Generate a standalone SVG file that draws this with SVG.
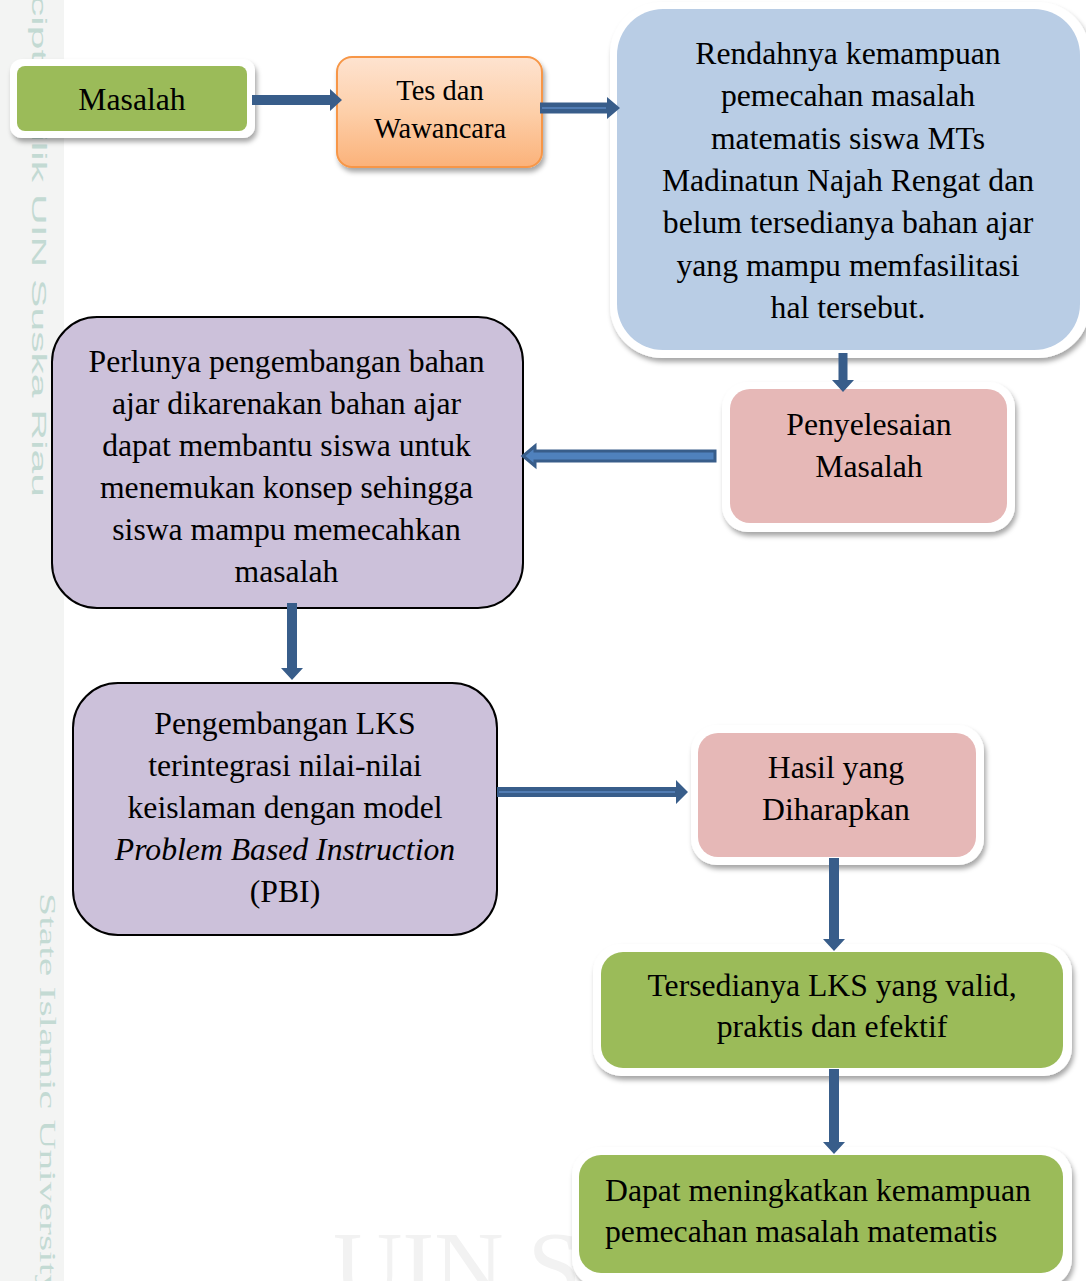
<svg xmlns="http://www.w3.org/2000/svg" width="1086" height="1281" viewBox="0 0 1086 1281">
<style>
.t{font-family:"Liberation Serif","Times New Roman",serif;font-size:31.7px;fill:#000;text-anchor:middle}
.ts{font-size:28.5px}
.wm{fill:#c3dad3}
.frame{fill:#fff;filter:url(#sh)}
.green{fill:#9bbb59}
.pink{fill:#e6b8b7}
.blue{fill:#b9cde5}
.purple{fill:#ccc1da;stroke:#000;stroke-width:2}
.ar{fill:#385d8a;stroke:none}
.ar2{fill:#4f81bd;stroke:#385d8a;stroke-width:3;stroke-linejoin:miter}
.hl{stroke:#5a87c0;fill:none}
</style>
<defs>
<filter id="sh" x="-10%" y="-10%" width="125%" height="130%">
<feDropShadow dx="2" dy="4" stdDeviation="2.5" flood-color="#000" flood-opacity="0.35"/>
</filter>
<linearGradient id="og" x1="0" y1="0" x2="0" y2="1">
<stop offset="0" stop-color="#fee3d0"/>
<stop offset="0.5" stop-color="#fdcfa9"/>
<stop offset="1" stop-color="#fbb27a"/>
</linearGradient>
</defs>

<g id="background">
<rect x="0" y="0" width="1086" height="1281" fill="#fff"/>
<rect x="0" y="0" width="64" height="1281" fill="#f3f4f3"/>
<text x="333" y="1298" font-family="Liberation Serif, serif" font-size="96" fill="#f2f2f2">UIN S</text>
<text class="wm" transform="translate(32,-5) rotate(90)" x="0" y="0" font-family="Liberation Sans, Arial, sans-serif" font-size="20" textLength="502" lengthAdjust="spacingAndGlyphs">cipta milik UIN Suska Riau</text>
<text class="wm" transform="translate(40,893) rotate(90)" x="0" y="0" font-family="Liberation Serif, serif" font-size="23" textLength="402" lengthAdjust="spacingAndGlyphs">State Islamic University</text>
</g>

<g id="n-masalah">
<rect class="frame" x="10" y="59" width="245" height="79" rx="12"/>
<rect class="green" x="17" y="66" width="230" height="65" rx="8"/>
<text class="t" x="132" y="110">Masalah</text>
</g>

<g id="n-tes">
<rect x="337" y="57" width="205" height="110" rx="15" fill="url(#og)" stroke="#f79646" stroke-width="2" filter="url(#sh)"/>
<text class="t ts" x="440" y="100">Tes dan</text>
<text class="t ts" x="440" y="138">Wawancara</text>
</g>

<g id="n-rendah">
<rect class="frame" x="610" y="2" width="480" height="356" rx="52"/>
<rect class="blue" x="617" y="9" width="463" height="341" rx="46"/>
<text class="t" x="848" y="64">Rendahnya kemampuan</text>
<text class="t" x="848" y="106.3">pemecahan masalah</text>
<text class="t" x="848" y="148.6">matematis siswa MTs</text>
<text class="t" x="848" y="190.9">Madinatun Najah Rengat dan</text>
<text class="t" x="848" y="233.2">belum tersedianya bahan ajar</text>
<text class="t" x="848" y="275.5">yang mampu memfasilitasi</text>
<text class="t" x="848" y="317.8">hal tersebut.</text>
</g>

<g id="n-penyelesaian">
<rect class="frame" x="722" y="382" width="293" height="150" rx="26"/>
<rect class="pink" x="730" y="389" width="277" height="134" rx="20"/>
<text class="t" x="869" y="435">Penyelesaian</text>
<text class="t" x="869" y="477">Masalah</text>
</g>

<g id="n-perlunya">
<rect class="purple" x="52" y="317" width="471" height="291" rx="45"/>
<text class="t" x="286.5" y="372">Perlunya pengembangan bahan</text>
<text class="t" x="286.5" y="414">ajar dikarenakan bahan ajar</text>
<text class="t" x="286.5" y="456">dapat membantu siswa untuk</text>
<text class="t" x="286.5" y="498">menemukan konsep sehingga</text>
<text class="t" x="286.5" y="540">siswa mampu memecahkan</text>
<text class="t" x="286.5" y="582">masalah</text>
</g>

<g id="n-lks">
<rect class="purple" x="73" y="683" width="424" height="252" rx="45"/>
<text class="t" x="285" y="734">Pengembangan LKS</text>
<text class="t" x="285" y="776">terintegrasi nilai-nilai</text>
<text class="t" x="285" y="818">keislaman dengan model</text>
<text class="t" x="285" y="860" font-style="italic">Problem Based Instruction</text>
<text class="t" x="285" y="902">(PBI)</text>
</g>

<g id="n-hasil">
<rect class="frame" x="691" y="725" width="293" height="140" rx="26"/>
<rect class="pink" x="698" y="733" width="278" height="124" rx="20"/>
<text class="t" x="836" y="778">Hasil yang</text>
<text class="t" x="836" y="820">Diharapkan</text>
</g>

<g id="n-tersedia">
<rect class="frame" x="593" y="944" width="479" height="132" rx="28"/>
<rect class="green" x="601" y="952" width="462" height="116" rx="22"/>
<text class="t" x="832" y="996">Tersedianya LKS yang valid,</text>
<text class="t" x="832" y="1037">praktis dan efektif</text>
</g>

<g id="n-dapat">
<rect class="frame" x="572" y="1147" width="500" height="140" rx="28"/>
<rect class="green" x="579" y="1155" width="484" height="118" rx="22"/>
<text class="t" x="605" y="1200.5" style="text-anchor:start">Dapat meningkatkan kemampuan</text>
<text class="t" x="605" y="1241.5" style="text-anchor:start">pemecahan masalah matematis</text>
</g>

<g id="connectors">
<path class="ar" d="M252,95 L330,95 L330,89 L342,100 L330,111 L330,105 L252,105 Z"/>
<path class="ar" d="M540,102.5 L607,102.5 L607,97 L620,108 L607,119 L607,113.5 L540,113.5 Z"/>
<line class="hl" x1="542" y1="108" x2="606" y2="108" stroke-width="1.5"/>
<path class="ar" d="M838.5,353 L838.5,380 L832,380 L843,392 L854,380 L847.5,380 L847.5,353 Z"/>
<path class="ar2" d="M715,451 L535,451 L535,446 L523,456 L535,466 L535,461 L715,461 Z"/>
<path class="ar" d="M287,603 L287,668 L281,668 L292,680 L303,668 L297,668 L297,603 Z"/>
<path class="ar" d="M497,787 L676,787 L676,780 L688,792 L676,804 L676,797 L497,797 Z"/>
<line class="hl" x1="499" y1="792" x2="675" y2="792" stroke-width="1.5"/>
<path class="ar" d="M829,858 L829,939 L823,939 L834,951 L845,939 L839,939 L839,858 Z"/>
<path class="ar" d="M829,1069 L829,1142 L823,1142 L834,1154 L845,1142 L839,1142 L839,1069 Z"/>
</g>
</svg>
